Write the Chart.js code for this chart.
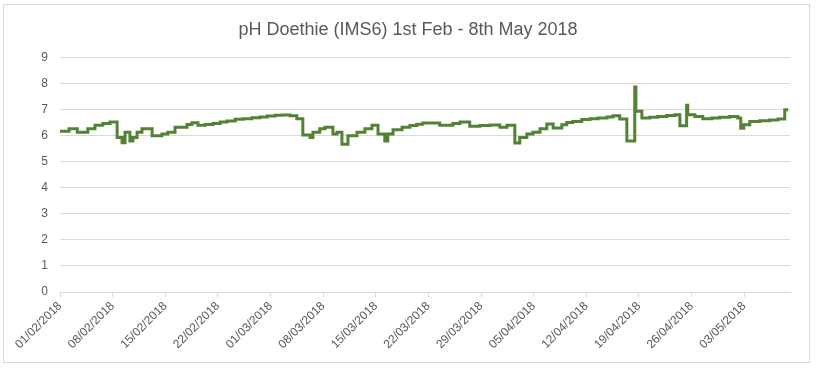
<!DOCTYPE html>
<html><head><meta charset="utf-8">
<script src="https://cdn.jsdelivr.net/npm/chart.js@4.4.1/dist/chart.umd.min.js"></script>
<style>html,body{margin:0;padding:0;background:#fff}#wrap{position:absolute;left:0;top:0;width:816px;height:369px}</style>
</head><body><div id="wrap"><canvas id="c" width="816" height="369"></canvas></div>
<script>
// Days since 01/02/2018 at which each pH reading starts
const dayOffsets = [0, 1.2, 2.3, 3.7, 4.65, 5.7, 6.65, 7.6, 8.25, 8.65, 9.3, 9.7, 10.25, 10.9, 12.25, 13.55, 14.35, 15.3, 16.9, 17.55, 18.35, 19.3, 20.35, 21.3, 22.2, 23.3, 24.35, 25.5, 26.6, 27.55, 28.6, 29.5, 30.6, 31.5, 32.3, 33.25, 33.65, 34.55, 35.25, 36.3, 36.85, 37.5, 38.3, 39.5, 40.55, 41.5, 42.3, 43.2, 43.6, 44.3, 45.5, 46.55, 47.45, 48.25, 50.5, 52.25, 53.2, 54.5, 55.85, 57.2, 58.5, 59.45, 60.5, 61.15, 62.1, 62.9, 63.85, 64.75, 65.6, 66.75, 67.4, 68.2, 69.4, 70.5, 71.55, 72.75, 73.55, 74.45, 75.4, 76.45, 76.6, 77.4, 78.45, 79.5, 80.7, 81.8, 82.45, 83.35, 83.5, 84.45, 85.5, 86.7, 87.75, 89.1, 90.15, 90.55, 90.95, 91.75, 93.1, 94.4, 95.5, 96.4, 96.85];
const phValues = [6.17, 6.27, 6.13, 6.27, 6.4, 6.47, 6.53, 5.93, 5.73, 6.13, 5.8, 5.93, 6.13, 6.27, 6.0, 6.07, 6.13, 6.33, 6.43, 6.5, 6.4, 6.43, 6.47, 6.53, 6.57, 6.63, 6.65, 6.69, 6.72, 6.76, 6.79, 6.8, 6.77, 6.65, 6.03, 5.93, 6.13, 6.27, 6.33, 6.07, 6.13, 5.67, 6.0, 6.13, 6.27, 6.4, 6.07, 5.8, 6.07, 6.23, 6.33, 6.39, 6.44, 6.49, 6.4, 6.47, 6.53, 6.36, 6.39, 6.41, 6.33, 6.4, 5.72, 5.93, 6.07, 6.13, 6.27, 6.45, 6.3, 6.42, 6.51, 6.55, 6.62, 6.65, 6.68, 6.72, 6.77, 6.64, 5.8, 7.87, 6.94, 6.68, 6.71, 6.74, 6.78, 6.81, 6.38, 7.17, 6.81, 6.74, 6.65, 6.68, 6.71, 6.74, 6.68, 6.29, 6.42, 6.55, 6.58, 6.6, 6.64, 7.0, 7.0];
const tickLabels = ['01/02/2018', '08/02/2018', '15/02/2018', '22/02/2018', '01/03/2018', '08/03/2018', '15/03/2018', '22/03/2018', '29/03/2018', '05/04/2018', '12/04/2018', '19/04/2018', '26/04/2018', '03/05/2018'];
const titleText = 'pH Doethie (IMS6) 1st Feb - 8th May 2018';

const points = dayOffsets.map((d, i) => ({x: d, y: phValues[i]}));

const frame = {
  id: 'frame',
  beforeDraw(chart) {
    const ctx = chart.ctx;
    ctx.save();
    ctx.fillStyle = '#ffffff';
    ctx.fillRect(0, 0, chart.width, chart.height);
    ctx.strokeStyle = '#d9d9d9';
    ctx.lineWidth = 1;
    ctx.strokeRect(3.5, 4.5, 806, 358);
    ctx.restore();
  }
};

const FONT = '"Liberation Sans", Arial, sans-serif';

new Chart(document.getElementById('c'), {
  type: 'line',
  data: {
    datasets: [{
      data: points,
      stepped: 'before',
      borderColor: '#548235',
      borderWidth: 3,
      pointRadius: 0,
      fill: false,
      tension: 0
    }]
  },
  options: {
    responsive: false,
    animation: false,
    devicePixelRatio: 1,
    layout: {padding: {left: 26, right: 26, top: 14, bottom: 10}},
    plugins: {
      legend: {display: false},
      tooltip: {enabled: false},
      title: {
        display: true,
        text: titleText,
        color: '#595959',
        font: {family: FONT, size: 18, weight: 'normal'},
        padding: {top: 5, bottom: 17}
      }
    },
    scales: {
      x: {
        type: 'linear',
        min: 0,
        max: 97.1,
        afterFit(s) { s.height = 67; },
        border: {display: true, color: '#d9d9d9', width: 1},
        grid: {display: true, drawOnChartArea: false, drawTicks: true, tickLength: 5, color: '#d9d9d9'},
        ticks: {
          stepSize: 7,
          includeBounds: false,
          autoSkip: false,
          maxRotation: 45,
          minRotation: 45,
          padding: 2,
          color: '#595959',
          font: {family: FONT, size: 12},
          callback: (v) => (v % 7 === 0 ? tickLabels[v / 7] : '')
        }
      },
      y: {
        min: 0,
        max: 9,
        afterFit(s) { s.width = 34; },
        border: {display: false},
        grid: {color: '#d9d9d9', drawTicks: false, lineWidth: 1},
        ticks: {stepSize: 1, padding: 12, color: '#595959', font: {family: FONT, size: 12}}
      }
    }
  },
  plugins: [frame]
});
</script>
</body></html>
